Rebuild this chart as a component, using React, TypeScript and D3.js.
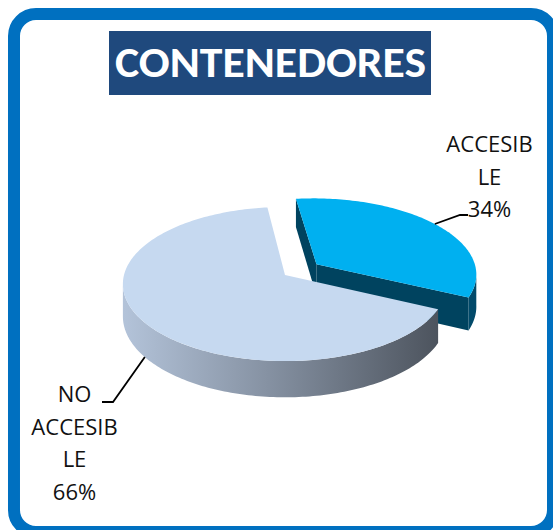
import React from "react";
import * as d3 from "d3";

const TITLE = "CONTENEDORES";
const CATEGORIES = ["ACCESIBLE", "NO ACCESIBLE"];
const VALUES = [34, 66];
const LABEL_LINES = [["ACCESIB", "LE"], ["NO", "ACCESIB", "LE"]];
const TOP_COLORS = ["#00B0F0", "#C6D9F0"];
const SIDE_COLORS = ["#024A6A", "url(#bigSide)"];
const EXPLODE = [0.245, 0];

const W = 553, H = 530;
const CX = 285, CY = 275, RX = 161, RY = 76, K = 0.117, DEPTH = 32;
const ROT = (-7 * Math.PI) / 180;

function proj(u: number, v: number, dz = 0): [number, number] {
  const s = 1 / (1 + K * v);
  return [CX + RX * u * s, CY - RY * v * s + dz * s];
}

function pt(ex: number, mid: number, r: number, a: number, dz = 0) {
  const eu = ex * Math.sin(mid), ev = ex * Math.cos(mid);
  return proj(eu + r * Math.sin(a), ev + r * Math.cos(a), dz);
}

function arcPts(ex: number, mid: number, a0: number, a1: number, dz: number) {
  const n = Math.max(2, Math.ceil(Math.abs(a1 - a0) / 0.02));
  const out: [number, number][] = [];
  for (let i = 0; i <= n; i++) out.push(pt(ex, mid, 1, a0 + ((a1 - a0) * i) / n, dz));
  return out;
}

const line = d3.line();

export default function App() {
  const total = d3.sum(VALUES);
  const pie = d3.pie<number>().sort(null).startAngle(ROT).endAngle(ROT + 2 * Math.PI);
  const arcs = pie(VALUES);
  const lo = Math.acos(-K);
  const hi = 2 * Math.PI - Math.acos(-K);
  const cam: [number, number] = [0, -1 / K];

  const slices = arcs.map((a, i) => {
    const mid = (a.startAngle + a.endAngle) / 2;
    const ex = EXPLODE[i];
    const P = [ex * Math.sin(mid), ex * Math.cos(mid)];
    const faces: string[] = [];
    const faceVisible = (th: number, isStart: boolean) => {
      const n = isStart ? [-Math.cos(th), Math.sin(th)] : [Math.cos(th), -Math.sin(th)];
      return n[0] * (cam[0] - P[0]) + n[1] * (cam[1] - P[1]) > 0;
    };
    const facePath = (th: number) =>
      line([pt(ex, mid, 0, th), pt(ex, mid, 1, th), pt(ex, mid, 1, th, DEPTH), pt(ex, mid, 0, th, DEPTH)]) + "Z";
    if (faceVisible(a.startAngle, true)) faces.push(facePath(a.startAngle));
    if (faceVisible(a.endAngle, false)) faces.push(facePath(a.endAngle));
    const s0 = Math.max(a.startAngle, lo), s1 = Math.min(a.endAngle, hi);
    let side: string | null = null;
    if (s1 > s0) {
      const top = arcPts(ex, mid, s0, s1, 0);
      const bot = arcPts(ex, mid, s1, s0, DEPTH);
      side = line([...top, ...bot]) + "Z";
    }
    const topPath = line([pt(ex, mid, 0, a.startAngle), ...arcPts(ex, mid, a.startAngle, a.endAngle, 0)]) + "Z";
    const front = Math.cos(mid) < 0;
    const anchor = pt(ex, mid, 1, mid, front ? DEPTH : 0);
    return { i, mid, faces, side, topPath, anchor, front };
  });

  const order = [...slices].sort((a, b) => Math.cos(b.mid) - Math.cos(a.mid));

  const labelLayout = [
    { x: 489.5, y: 152, elbow: [460, 215], end: [468, 215] },
    { x: 74.5, y: 402, elbow: [113, 402], end: [102, 402] },
  ];
  const lh = 32.5;
  const titleFont = "Carlito, Calibri, Lato, 'Open Sans', sans-serif";
  const font = "'Open Sans', 'Noto Sans', sans-serif";

  return (
    <svg width={W} height={H} style={{ position: "absolute", left: 0, top: 0 }}>
      <defs>
        <linearGradient id="bigSide" gradientUnits="userSpaceOnUse" x1={124} y1={0} x2={440} y2={0}>
          <stop offset="0" stopColor="#B3C3D9" />
          <stop offset="0.45" stopColor="#8692A3" />
          <stop offset="1" stopColor="#4C535D" />
        </linearGradient>
      </defs>
      <rect x={0} y={0} width={W} height={H} fill="#fff" />
      <rect x={14} y={14} width={539} height={518} rx={22} ry={22} fill="#fff" stroke="#0070C0" strokeWidth={12} />
      <rect x={109} y={31} width={322} height={64} fill="#1F497D" />
      <text x={115} y={77} fill="#fff" fontFamily={titleFont} fontWeight="bold" fontSize={42}
        textLength={311} lengthAdjust="spacingAndGlyphs">{TITLE}</text>
      {order.map((s) => (
        <g key={s.i}>
          {s.faces.map((f, j) => <path key={j} d={f} fill={s.i === 1 ? "#4C535D" : "#00435F"} />)}
          {s.side && <path d={s.side} fill={SIDE_COLORS[s.i]} />}
          <path d={s.topPath} fill={TOP_COLORS[s.i]} />
        </g>
      ))}
      {slices.map((s) => {
        const L = labelLayout[s.i];
        const lines = [...LABEL_LINES[s.i], Math.round((VALUES[s.i] / total) * 100) + "%"];
        return (
          <g key={"l" + s.i}>
            <path d={line([s.anchor, L.elbow as [number, number], L.end as [number, number]]) as string}
              fill="none" stroke="#000" strokeWidth={1.8} />
            {lines.map((t, j) => (
              <text key={j} x={L.x} y={L.y + j * lh} textAnchor="middle" fontFamily={font} fontSize={22} fill="#111">{t}</text>
            ))}
          </g>
        );
      })}
    </svg>
  );
}
